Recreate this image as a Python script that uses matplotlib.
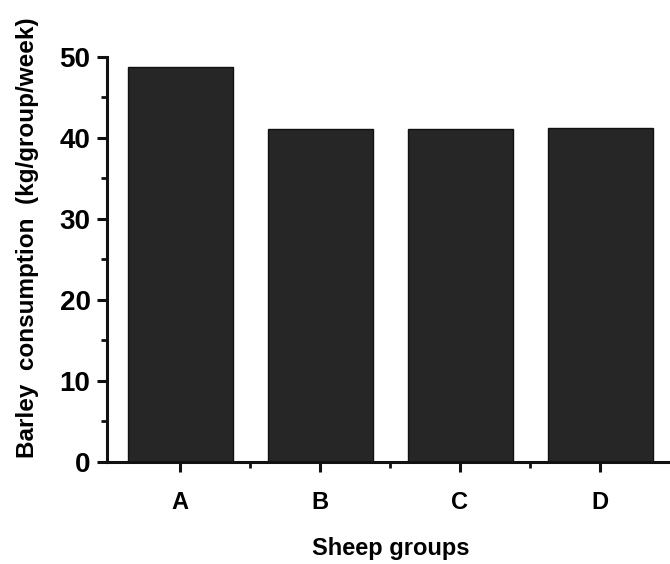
import matplotlib
matplotlib.use("Agg")
import matplotlib.pyplot as plt
from matplotlib.ticker import MultipleLocator

groups = ["A", "B", "C", "D"]
consumption = [48.8, 41.1, 41.1, 41.2]

plt.rcParams['font.family'] = ['Liberation Sans', 'DejaVu Sans']
plt.rcParams['font.weight'] = 'bold'

W, H = 670, 564
fig = plt.figure(figsize=(W / 100, H / 100), dpi=100)
ax = fig.add_axes([0.16, 0.181, 0.84, 0.718])

x = list(range(len(groups)))
ax.bar(x, consumption, width=0.75, color="#262626", edgecolor="#111111", linewidth=1)

ax.set_xlim(-0.52, 3.5)
ax.set_ylim(0, 50)
ax.set_xticks(x)
ax.set_xticklabels(groups)
ax.set_xticks([0.5, 1.5, 2.5], minor=True)
ax.yaxis.set_major_locator(MultipleLocator(10))
ax.yaxis.set_minor_locator(MultipleLocator(5))

for s in ("top", "right"):
    ax.spines[s].set_visible(False)
for s in ("left", "bottom"):
    ax.spines[s].set_linewidth(2.2)
    ax.spines[s].set_color("#111111")

ax.tick_params(axis="both", which="major", length=7, width=2.2, color="#111111")
ax.tick_params(axis="both", which="minor", length=4, width=2.0, color="#111111")
ax.tick_params(axis="x", which="major", pad=14, labelsize=17)
ax.tick_params(axis="y", which="major", pad=5, labelsize=20)

fig.text(28 / W, 1 - 238 / H, "Barley  consumption  (kg/group/week)", rotation=90,
         ha="center", va="center", fontsize=17.5, fontweight="bold")
fig.text(391 / W, 1 - 549 / H, "Sheep groups", ha="center", va="center",
         fontsize=17, fontweight="bold")

fig.savefig("out.png", dpi=100)
